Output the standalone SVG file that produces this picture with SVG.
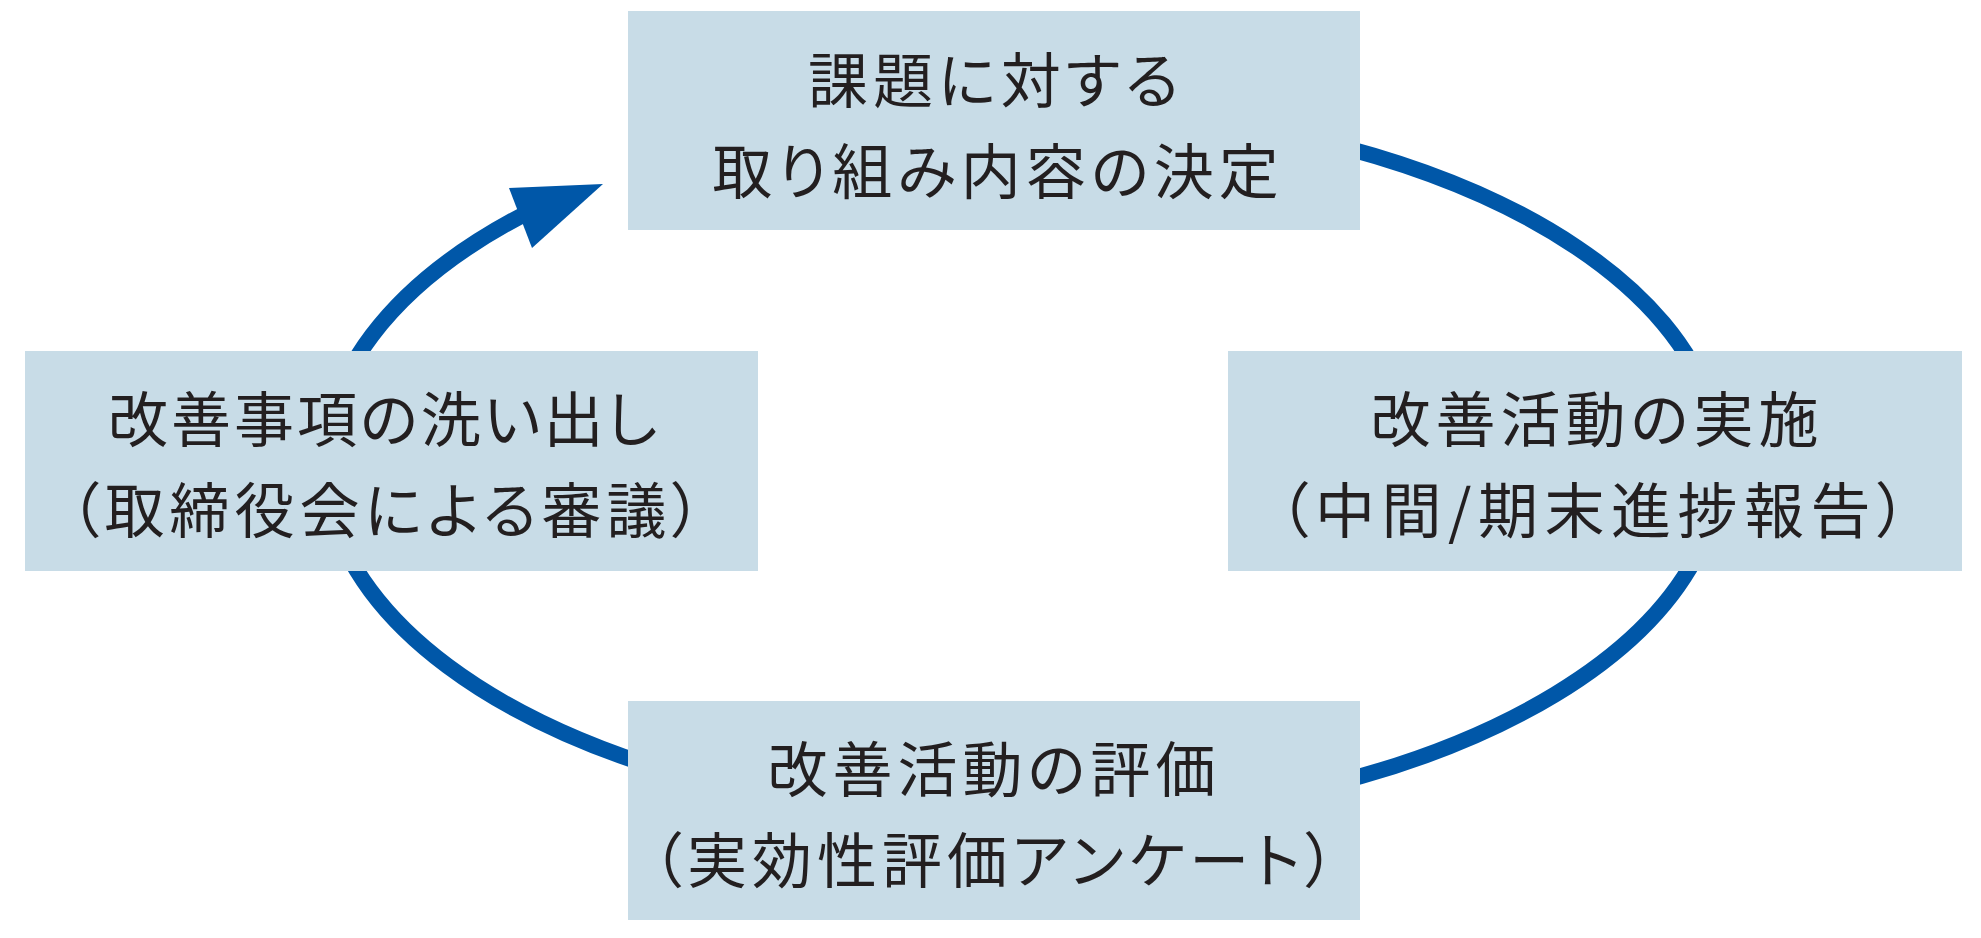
<svg xmlns="http://www.w3.org/2000/svg" width="1981" height="938" viewBox="0 0 1981 938">
<style>
.box{fill:#c8dce7;}
.t{font-family:"Noto Sans CJK JP","Noto Sans",sans-serif;font-size:60px;fill:#231f20;text-anchor:middle;dominant-baseline:central;letter-spacing:5px;font-feature-settings:"palt";}
.conn{fill:none;stroke:#0057a8;stroke-width:16;}
.head{fill:#0057a8;}
</style>
<rect width="1981" height="938" fill="#ffffff"/>
<g id="connectors">
<path class="conn" d="M 1022.5 107.1 A 697.4 356.9 0 1 1 538 207.3"/>
<polygon class="head" points="603,184 509,188 532,248"/>
</g>
<g id="node-top">
<rect class="box" x="628" y="11" width="732" height="219"/>
<text class="t" x="996" y="76">課題に対する</text>
<text class="t" x="998" y="167">取り組み内容の決定</text>
</g>
<g id="node-left">
<rect class="box" x="25" y="351" width="733" height="220"/>
<text class="t" x="384" y="415" style="letter-spacing:3px">改善事項の洗い出し</text>
<text class="t" x="388" y="506">（取締役会による審議）</text>
</g>
<g id="node-right">
<rect class="box" x="1228" y="351" width="734" height="220"/>
<text class="t" x="1597" y="415">改善活動の実施</text>
<text class="t" x="1596" y="506" style="letter-spacing:6.5px">（中間/期末進捗報告）</text>
</g>
<g id="node-bottom">
<rect class="box" x="628" y="701" width="732" height="219"/>
<text class="t" x="994" y="765">改善活動の評価</text>
<text class="t" x="996" y="856">（実効性評価アンケート）</text>
</g>
</svg>
